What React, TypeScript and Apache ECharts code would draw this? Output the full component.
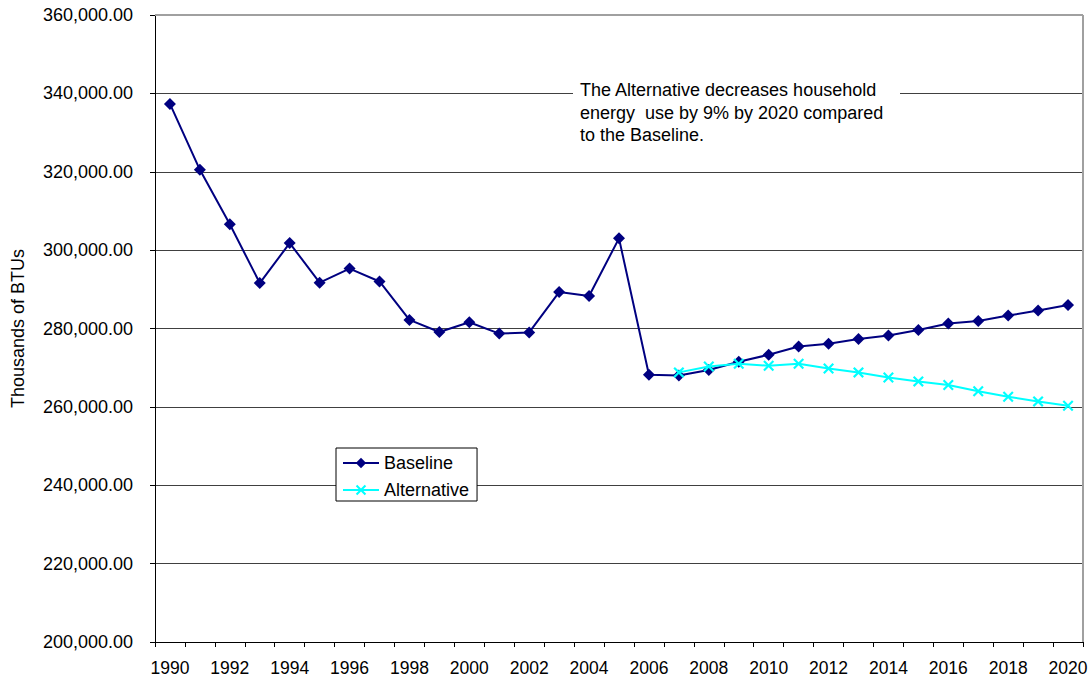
import React, { useEffect, useRef } from "react";
import * as echarts from "echarts";

// Household energy use, thousands of BTUs per year
const years: string[] = [
  "1990", "1991", "1992", "1993", "1994", "1995", "1996", "1997", "1998", "1999",
  "2000", "2001", "2002", "2003", "2004", "2005", "2006", "2007", "2008", "2009",
  "2010", "2011", "2012", "2013", "2014", "2015", "2016", "2017", "2018", "2019", "2020",
];

const baseline: number[] = [
  337300, 320500, 306600, 291600, 301800, 291700, 295300, 292000, 282200, 279100,
  281600, 278700, 279000, 289300, 288300, 303000, 268200, 268000, 269400, 271500,
  273300, 275400, 276100, 277300, 278200, 279600, 281300, 281900, 283300, 284600, 286000,
];

const alternative: (number | null)[] = [
  null, null, null, null, null, null, null, null, null, null,
  null, null, null, null, null, null, null, 268800, 270300, 271000,
  270500, 271000, 269800, 268800, 267500, 266500, 265600, 264000, 262600, 261400, 260300,
];

const yMin = 200000;
const yMax = 360000;
const yStep = 20000;

const noteLines: string[] = [
  "The Alternative decreases household",
  "energy  use by 9% by 2020 compared",
  "to the Baseline.",
];

const FONT = "'Liberation Sans', Arial, Helvetica, sans-serif";
const NAVY = "#000080";
const CYAN = "#00ffff";

// filled "x" marker
const CROSS =
  "path://M0,1.4L1.4,0L5,3.6L8.6,0L10,1.4L6.4,5L10,8.6L8.6,10L5,6.4L1.4,10L0,8.6L3.6,5Z";

const fmt = (v: number) =>
  v.toLocaleString("en-US", { minimumFractionDigits: 2, maximumFractionDigits: 2 });

export default function App() {
  const ref = useRef<HTMLDivElement>(null);

  useEffect(() => {
    if (!ref.current) return;
    const chart = echarts.init(ref.current, undefined, { renderer: "svg" });
    chart.setOption({
      animation: false,
      backgroundColor: "#ffffff",
      textStyle: { fontFamily: FONT },
      grid: { left: 155, right: 8, top: 15, bottom: 40, containLabel: false },
      legend: {
        orient: "vertical",
        left: 336,
        top: 448,
        padding: [6, 8, 2, 6],
        itemGap: 9,
        itemWidth: 36,
        itemHeight: 13,
        backgroundColor: "#ffffff",
        borderColor: "#000000",
        borderWidth: 1,
        borderRadius: 0,
        textStyle: { fontSize: 18, color: "#000000", fontFamily: FONT },
        data: ["Baseline", "Alternative"],
      },
      xAxis: {
        type: "category",
        data: years,
        boundaryGap: true,
        axisLine: { lineStyle: { color: "#000000", width: 1 } },
        axisTick: { show: true, interval: 0, length: 5, lineStyle: { color: "#000000" } },
        axisLabel: {
          interval: 1,
          fontSize: 17.5,
          color: "#000000",
          margin: 17,
          fontFamily: FONT,
        },
        splitLine: { show: false },
      },
      yAxis: {
        type: "value",
        min: yMin,
        max: yMax,
        interval: yStep,
        name: "Thousands of BTUs",
        nameLocation: "middle",
        nameRotate: 90,
        nameGap: 128,
        nameTextStyle: { fontSize: 18, color: "#000000", fontFamily: FONT },
        axisLine: { show: true, lineStyle: { color: "#000000", width: 1 } },
        axisTick: { show: true, length: 5, lineStyle: { color: "#000000" } },
        axisLabel: {
          formatter: (v: number) => fmt(v),
          fontSize: 18,
          color: "#000000",
          margin: 22,
          fontFamily: FONT,
        },
        splitLine: { show: true, lineStyle: { color: "#404040", width: 1 } },
      },
      series: [
        {
          name: "Baseline",
          type: "line",
          data: baseline,
          symbol: "diamond",
          symbolSize: 12,
          lineStyle: { color: NAVY, width: 2 },
          itemStyle: { color: NAVY },
          z: 3,
        },
        {
          name: "Alternative",
          type: "line",
          data: alternative,
          symbol: CROSS,
          symbolSize: 11,
          lineStyle: { color: CYAN, width: 2 },
          itemStyle: { color: CYAN },
          z: 4,
        },
      ],
      graphic: [
        // plot frame on top and right
        {
          type: "line",
          z: 10,
          shape: { x1: 155, y1: 15, x2: 1083, y2: 15 },
          style: { stroke: "#a0a0a0", lineWidth: 2 },
        },
        {
          type: "line",
          z: 10,
          shape: { x1: 1083, y1: 15, x2: 1083, y2: 642 },
          style: { stroke: "#a0a0a0", lineWidth: 2 },
        },
        // annotation box
        {
          type: "rect",
          z: 10,
          shape: { x: 573, y: 80, width: 327, height: 68 },
          style: { fill: "#ffffff" },
        },
        {
          type: "text",
          z: 11,
          x: 580,
          y: 79,
          style: {
            text: noteLines.join("\n"),
            fontSize: 18,
            lineHeight: 22.5,
            fontFamily: FONT,
            fill: "#000000",
            verticalAlign: "top",
            align: "left",
          },
        },
      ],
    });
    return () => chart.dispose();
  }, []);

  return (
    <div
      ref={ref}
      style={{ position: "fixed", left: 0, top: 0, width: 1091, height: 682 }}
    />
  );
}
